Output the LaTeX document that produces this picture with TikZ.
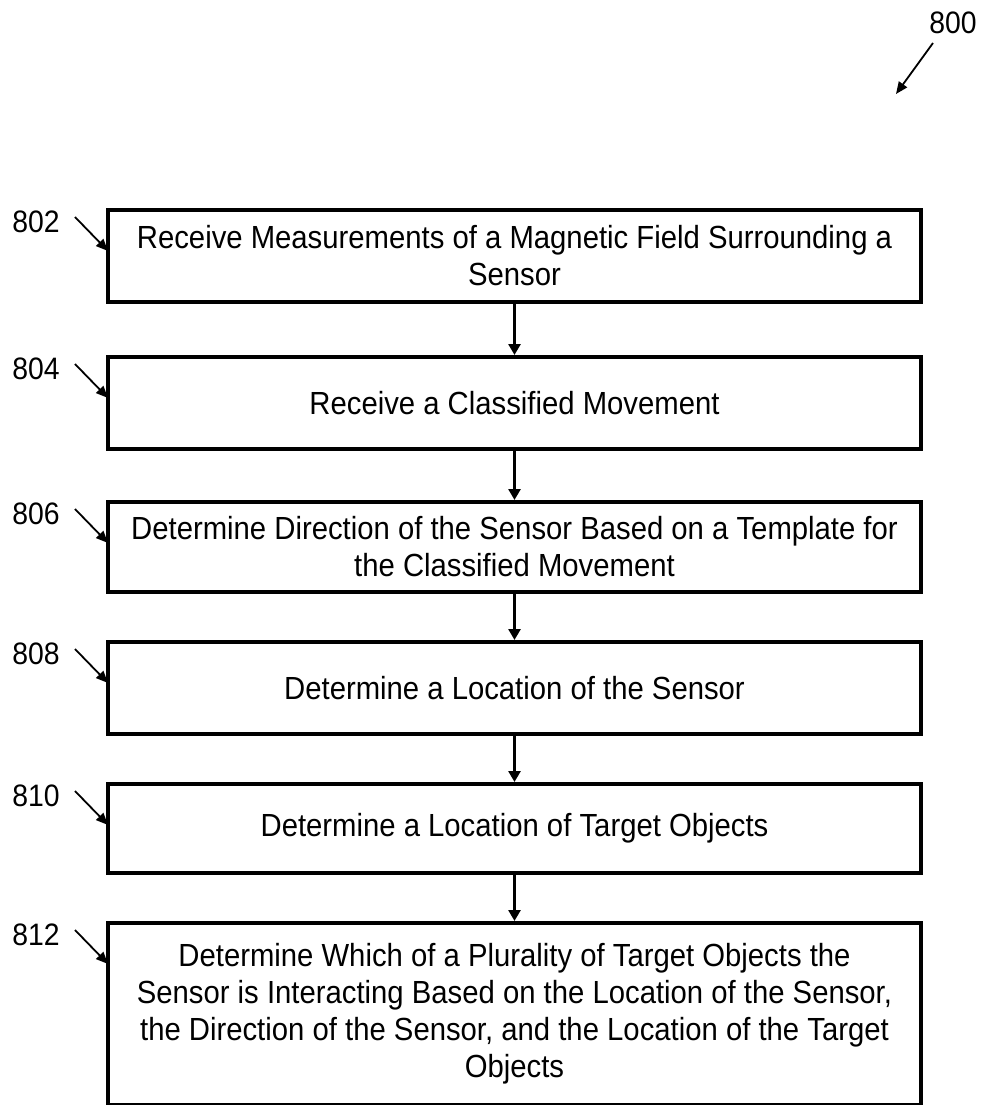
\documentclass[tikz,border=0pt]{standalone}
\usepackage{fontspec}
\setmainfont[FakeStretch=0.915]{Liberation Sans}
\usetikzlibrary{arrows.meta}
\begin{document}
\begin{tikzpicture}[x=1pt,y=-1pt,
  stepbox/.style={draw=black, line width=3.5pt, minimum width=813pt, inner sep=0pt, align=center, font=\fontsize{32}{37}\selectfont, anchor=north},
  reflabel/.style={font=\fontsize{31}{34}\selectfont, inner sep=0pt},
  leader/.style={line width=1.8pt, -{Triangle[length=12pt,width=10pt]}},
  flow/.style={line width=2.6pt, -{Triangle[length=11pt,width=12pt]}}]
\useasboundingbox (0,0) rectangle (982,1105);
\node[stepbox, minimum height=92pt] (b1) at (514.5,208) {Receive Measurements of a Magnetic Field Surrounding a\\Sensor};
\node[stepbox, minimum height=92pt] (b2) at (514.5,355) {Receive a Classified Movement};
\node[stepbox, minimum height=90pt] (b3) at (514.5,500) {Determine Direction of the Sensor Based on a Template for\\the Classified Movement};
\node[stepbox, minimum height=92pt] (b4) at (514.5,640) {Determine a Location of the Sensor};
\node[stepbox, minimum height=89pt] (b5) at (514.5,782) {Determine a Location of Target Objects};
\node[stepbox, minimum height=182pt] (b6) at (514.5,921) {Determine Which of a Plurality of Target Objects the\\Sensor is Interacting Based on the Location of the Sensor,\\the Direction of the Sensor, and the Location of the Target\\Objects};
\draw[flow] (b1.south) -- (b2.north);
\draw[flow] (b2.south) -- (b3.north);
\draw[flow] (b3.south) -- (b4.north);
\draw[flow] (b4.south) -- (b5.north);
\draw[flow] (b5.south) -- (b6.north);
% reference labels
\foreach \n/\b/\t in {802/b1/208,804/b2/355,806/b3/500,808/b4/640,810/b5/782,812/b6/921}{
  \node[reflabel] (l\n) at (36,\t+14) {\n};
  \coordinate (s\n) at (75,\t+9);
  \coordinate (e\n) at (108,\t+43);
  \draw[leader] (s\n) -- (e\n);
}
\node[reflabel] (l800) at (953,23) {800};
\coordinate (s800) at (933,43);
\coordinate (e800) at (896,94);
\draw[leader] (s800) -- (e800);
\end{tikzpicture}
\end{document}
